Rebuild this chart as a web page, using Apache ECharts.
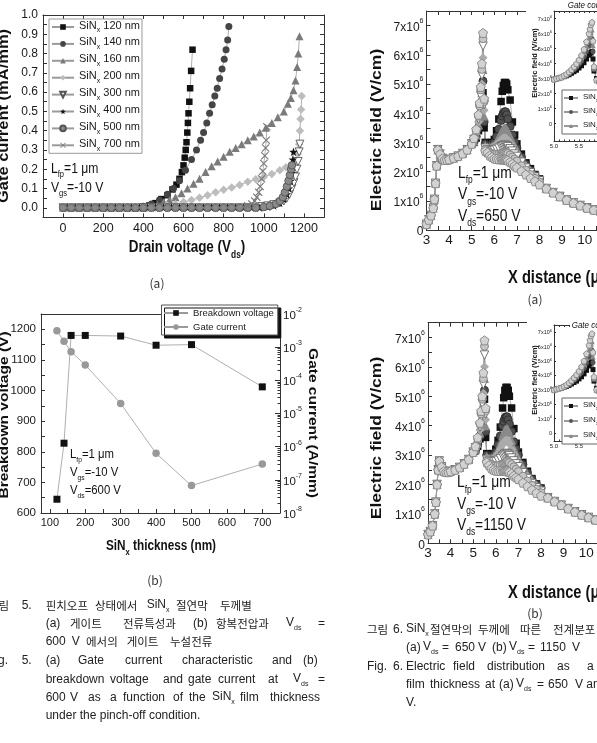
<!DOCTYPE html>
<html><head><meta charset="utf-8">
<script src="https://cdn.jsdelivr.net/npm/echarts@6.0.0/dist/echarts.min.js"></script>
<style>html,body{margin:0;padding:0;background:#fff;overflow:hidden}#c{width:597px;height:743px}</style>
</head><body><div id="c"></div>
<script>
// ================= Fig. 5(a): gate current (mA/mm) vs drain voltage (V) =================
const sinThickness = ['120','140','160','200','300','400','500','700'];
const gc120 = [[0,0],[40,0],[80,0],[120,0],[160,0],[200,0],[240,0],[280,0],[320,0],[360,0],[400,0.006],[430,0.012],[460,0.024],[490,0.045],[520,0.065],[545,0.095],[565,0.12],[580,0.15],[592,0.185],[600,0.22],[606,0.26],[611,0.3],[615,0.34],[619,0.39],[622,0.44],[625,0.49],[629,0.55],[633,0.62],[638,0.71],[645,0.82]];
const gc140 = [[20,0],[60,0],[100,0],[140,0],[180,0],[220,0],[260,0],[300,0],[340,0],[380,0],[400,0.008],[440,0.02],[480,0.04],[520,0.07],[550,0.1],[580,0.14],[610,0.195],[640,0.25],[665,0.3],[685,0.35],[700,0.39],[716,0.44],[730,0.49],[743,0.535],[756,0.58],[768,0.62],[780,0.67],[792,0.72],[803,0.77],[812,0.82],[820,0.87],[826,0.94]];
const gc160 = [[0,0],[40,0],[80,0],[120,0],[160,0],[200,0],[240,0],[280,0],[320,0],[360,0],[400,0],[440,0.005],[470,0.015],[500,0.028],[530,0.04],[560,0.055],[590,0.075],[620,0.1],[650,0.125],[680,0.15],[710,0.185],[740,0.215],[770,0.24],[800,0.265],[830,0.29],[860,0.31],[890,0.33],[920,0.35],[950,0.37],[980,0.39],[1010,0.415],[1040,0.44],[1070,0.47],[1100,0.5],[1120,0.54],[1135,0.57],[1148,0.61],[1158,0.66],[1166,0.73],[1172,0.8],[1178,0.89]];
const gc200 = [[20,0],[60,0],[100,0],[140,0],[180,0],[220,0],[260,0],[300,0],[340,0],[380,0],[420,0],[460,0],[480,0.004],[520,0.01],[560,0.018],[600,0.03],[640,0.04],[680,0.052],[720,0.065],[760,0.08],[800,0.093],[840,0.105],[880,0.118],[920,0.135],[960,0.148],[1000,0.16],[1040,0.175],[1080,0.195],[1110,0.21],[1140,0.225],[1160,0.245],[1170,0.28],[1176,0.33],[1180,0.4],[1183,0.46],[1186,0.51],[1189,0.58]];
const gc300 = [[0,0],[40,0],[80,0],[120,0],[160,0],[200,0],[240,0],[280,0],[320,0],[360,0],[400,0],[440,0],[480,0],[520,0],[560,0],[600,0],[640,0],[680,0],[720,0],[760,0],[800,0],[840,0],[880,0],[920,0],[960,0.003],[990,0.006],[1020,0.01],[1050,0.016],[1080,0.025],[1100,0.035],[1115,0.05],[1128,0.07],[1140,0.1],[1150,0.13],[1158,0.16],[1165,0.2],[1171,0.24],[1176,0.29],[1180,0.33]];
const gc400 = [[20,0],[60,0],[100,0],[140,0],[180,0],[220,0],[260,0],[300,0],[340,0],[380,0],[420,0],[460,0],[500,0],[540,0],[580,0],[620,0],[660,0],[700,0],[740,0],[780,0],[820,0],[860,0],[900,0],[940,0],[980,0],[1020,0.005],[1050,0.012],[1080,0.025],[1100,0.045],[1115,0.07],[1125,0.1],[1133,0.14],[1139,0.18],[1143,0.22],[1145,0.25],[1148,0.29]];
const gc500 = [[0,0],[40,0],[80,0],[120,0],[160,0],[200,0],[240,0],[280,0],[320,0],[360,0],[400,0],[440,0],[480,0],[520,0],[560,0],[600,0],[640,0],[680,0],[720,0],[760,0],[800,0],[840,0],[880,0],[920,0],[960,0],[1000,0.004],[1030,0.01],[1060,0.02],[1080,0.035],[1095,0.055],[1105,0.08],[1115,0.11],[1123,0.14],[1130,0.17],[1136,0.2],[1140,0.22]];
const gc700 = [[20,0],[60,0],[100,0],[140,0],[180,0],[220,0],[260,0],[300,0],[340,0],[380,0],[420,0],[460,0],[500,0],[540,0],[580,0],[620,0],[660,0],[700,0],[740,0],[780,0],[820,0],[860,0],[900,0.005],[920,0.01],[940,0.02],[955,0.035],[965,0.055],[975,0.08],[982,0.11],[989,0.15],[995,0.19],[1000,0.23],[1005,0.27],[1009,0.31],[1012,0.35],[1015,0.42]];
const vdTickLabels = [0,200,400,600,800,1000,1200];

// ================= Fig. 5(b): breakdown voltage & gate current vs SiNx thickness =================
const thicknessNm = [120,140,160,200,300,400,500,700];
const breakdownV = [645,828,1180,1180,1178,1148,1150,1012];
const gateCurrentAmm = [3.1e-3,1.5e-3,7.3e-4,2.9e-4,2.0e-5,6.3e-7,6.7e-8,3.0e-7];

// ================= Fig. 6: electric field (x10^6 V/cm) vs X distance (um) =================
const posSrc  = [3.0,3.1,3.2,3.3,3.35,3.4,3.45,3.5,3.6,3.7,3.8,3.9,4.0,4.2,4.4,4.6,4.8,5.0];
const posGate = [5.1,5.2,5.3,5.35,5.4,5.45,5.5,5.55,5.6];
const posFp   = [5.7,5.8,5.9,6.0,6.1,6.2,6.3,6.35,6.4,6.45,6.5,6.55,6.6,6.7,6.8,6.9,7.0,7.2,7.4,7.6,7.8,8.0];
const posTail = [8.3,8.6,8.9,9.2,9.5,9.8,10.1,10.4,10.7,11.0,11.5,12.0];
const fieldThk = ['120','140','160','200','300','500','700'];
// (a) Vds = 650 V
const srcA  = [0.2,0.35,0.5,0.75,1.05,1.6,2.2,2.75,2.6,2.45,2.4,2.4,2.42,2.47,2.53,2.62,2.75,2.95];
const tailA = [1.42,1.28,1.15,1.03,0.93,0.84,0.76,0.69,0.63,0.58,0.51,0.45];
const gateA120 = [3.0,3.15,3.4,3.6,3.85,4.2,4.7,3.5,3.0];
const gateA140 = [3.0,3.2,3.5,3.7,4.0,4.4,5.1,3.7,2.95];
const gateA160 = [3.05,3.25,3.6,3.85,4.2,4.7,5.5,3.9,2.9];
const gateA200 = [3.1,3.3,3.7,4.0,4.4,5.0,5.9,4.1,2.85];
const gateA300 = [3.1,3.35,3.8,4.15,4.6,5.3,6.3,4.3,2.8];
const gateA500 = [3.15,3.4,3.9,4.25,4.8,5.5,6.55,4.4,2.75];
const gateA700 = [3.15,3.45,3.95,4.35,4.9,5.7,6.75,4.5,2.7];
const fpA120 = [2.95,2.95,3.0,3.1,3.4,3.8,4.4,4.75,4.95,5.05,5.05,5.0,4.8,4.45,3.7,3.25,2.95,2.6,2.3,2.1,1.9,1.75];
const fpA140 = [2.9,2.9,2.95,3.0,3.2,3.45,3.75,3.9,4.0,4.05,4.05,3.95,3.8,3.55,3.25,3.0,2.8,2.5,2.25,2.05,1.88,1.73];
const fpA160 = [2.85,2.85,2.88,2.92,3.05,3.2,3.35,3.42,3.48,3.5,3.5,3.45,3.38,3.22,3.05,2.9,2.75,2.45,2.22,2.03,1.86,1.72];
const fpA200 = [2.8,2.8,2.82,2.85,2.93,3.0,3.08,3.12,3.15,3.15,3.15,3.12,3.07,2.98,2.88,2.76,2.65,2.4,2.18,2.0,1.84,1.7];
const fpA300 = [2.75,2.72,2.72,2.73,2.76,2.8,2.85,2.87,2.88,2.9,2.9,2.88,2.85,2.78,2.7,2.6,2.52,2.32,2.12,1.96,1.81,1.68];
const fpA500 = [2.7,2.65,2.62,2.6,2.6,2.6,2.62,2.63,2.64,2.65,2.65,2.64,2.62,2.57,2.5,2.43,2.36,2.2,2.05,1.9,1.77,1.64];
const fpA700 = [2.65,2.55,2.5,2.45,2.43,2.42,2.42,2.42,2.42,2.42,2.41,2.4,2.38,2.33,2.27,2.2,2.14,2.02,1.9,1.78,1.67,1.56];
// (b) Vds = 1150 V
const srcB  = [0.3,0.4,0.6,1.0,1.4,2.0,2.5,2.8,2.6,2.45,2.42,2.42,2.45,2.5,2.58,2.7,2.85,3.1];
const tailB = [1.55,1.42,1.3,1.18,1.07,0.97,0.88,0.8,0.73,0.67,0.6,0.54];
const gateB120 = [3.15,3.3,3.55,3.75,4.0,4.35,4.9,3.6,3.05];
const gateB140 = [3.15,3.35,3.65,3.85,4.15,4.55,5.2,3.8,3.0];
const gateB160 = [3.2,3.4,3.75,4.0,4.35,4.8,5.6,4.0,2.95];
const gateB200 = [3.2,3.45,3.85,4.15,4.55,5.1,6.0,4.2,2.9];
const gateB300 = [3.25,3.5,3.95,4.3,4.75,5.4,6.4,4.4,2.85];
const gateB500 = [3.3,3.55,4.05,4.4,4.9,5.6,6.7,4.5,2.8];
const gateB700 = [3.3,3.6,4.1,4.5,5.0,5.8,6.9,4.6,2.75];
const fpB120 = [3.0,3.0,3.05,3.2,3.5,3.95,4.6,4.95,5.2,5.3,5.3,5.2,5.0,4.6,3.9,3.4,3.1,2.75,2.45,2.2,2.02,1.88];
const fpB140 = [2.95,2.95,3.0,3.1,3.35,3.65,4.0,4.15,4.25,4.3,4.3,4.2,4.05,3.8,3.45,3.2,3.0,2.68,2.4,2.18,2.0,1.86];
const fpB160 = [2.9,2.9,2.95,3.0,3.2,3.4,3.65,3.75,3.85,3.9,3.9,3.85,3.75,3.5,3.25,3.05,2.9,2.6,2.35,2.15,1.98,1.84];
const fpB200 = [2.85,2.85,2.88,2.92,3.05,3.2,3.35,3.42,3.48,3.5,3.5,3.45,3.38,3.2,3.03,2.88,2.76,2.5,2.28,2.1,1.94,1.81];
const fpB300 = [2.8,2.77,2.77,2.78,2.82,2.88,2.95,2.99,3.02,3.05,3.05,3.02,2.98,2.9,2.8,2.7,2.6,2.4,2.2,2.03,1.89,1.77];
const fpB500 = [2.72,2.68,2.65,2.64,2.65,2.67,2.7,2.72,2.74,2.77,2.8,2.77,2.74,2.68,2.6,2.52,2.44,2.28,2.12,1.97,1.84,1.72];
const fpB700 = [2.65,2.55,2.5,2.47,2.46,2.46,2.46,2.46,2.46,2.46,2.45,2.44,2.42,2.37,2.3,2.24,2.18,2.06,1.94,1.82,1.71,1.62];
// insets: gate corner
const posInset = [5.0,5.05,5.1,5.15,5.2,5.25,5.3,5.35,5.4,5.45,5.5,5.55,5.6,5.65,5.7,5.72,5.74,5.76,5.78,5.8,5.85,5.9];
const insA120 = [2.95,3.0,3.03,3.06,3.12,3.18,3.25,3.35,3.45,3.55,3.7,3.85,4.05,4.3,4.55,4.65,4.75,4.8,4.3,3.5,3.0,2.95];
const insA200 = [2.95,3.0,3.05,3.08,3.15,3.22,3.32,3.45,3.6,3.75,3.95,4.15,4.45,4.8,5.15,5.35,5.55,5.65,4.8,3.6,2.95,2.85];
const insA300 = [2.95,3.0,3.05,3.1,3.18,3.27,3.4,3.55,3.72,3.9,4.12,4.4,4.75,5.15,5.6,5.85,6.1,6.25,5.2,3.7,2.9,2.8];
const insA700 = [2.95,3.0,3.05,3.1,3.2,3.3,3.45,3.6,3.8,4.0,4.25,4.55,4.95,5.45,6.0,6.3,6.6,6.75,5.5,3.8,2.9,2.8];
const insB120 = [3.0,3.05,3.08,3.11,3.17,3.23,3.3,3.4,3.5,3.6,3.75,3.9,4.1,4.35,4.65,4.8,4.9,4.95,4.4,3.6,3.1,3.05];
const insB200 = [3.0,3.05,3.1,3.13,3.2,3.27,3.37,3.5,3.65,3.8,4.0,4.2,4.5,4.85,5.25,5.45,5.65,5.75,4.9,3.7,3.05,2.95];
const insB300 = [3.0,3.05,3.1,3.15,3.22,3.32,3.45,3.6,3.77,3.95,4.17,4.45,4.8,5.2,5.7,5.95,6.2,6.35,5.3,3.8,3.0,2.9];
const insB700 = [3.0,3.05,3.1,3.15,3.25,3.35,3.5,3.65,3.85,4.05,4.3,4.6,5.0,5.5,6.1,6.45,6.75,6.9,5.6,3.9,3.0,2.9];

// ---------------- helpers (styling only) ----------------
const NF = "'Liberation Sans',Arial,sans-serif";
const KF = "'Noto Sans CJK KR','Liberation Sans',sans-serif";
const LF = "'Liberation Sans',Arial,sans-serif";
const PENT = 'path://M0,-10L9.51,-3.09L5.88,8.09L-5.88,8.09L-9.51,-3.09Z';
const STAR = 'path://M0,-10L2.35,-3.24L9.51,-3.09L3.8,1.24L5.88,8.09L0,4L-5.88,8.09L-3.8,1.24L-9.51,-3.09L-2.35,-3.24Z';
const DTRI = 'path://M-10,-8L10,-8L0,10Z';
const CROSS = 'path://M-10,-8L-8,-10L0,-2L8,-10L10,-8L2,0L10,8L8,10L0,2L-8,10L-10,8L-2,0Z';
const SQ = 0.84; // horizontal squeeze of the scanned figure
const zip = (xs, ys) => xs.map((x, i) => [x, ys[i]]);
const steps = (a, b, s) => { const r = []; for (let v = a; v <= b + 1e-9; v += s) r.push(+v.toFixed(4)); return r; };
const plain = v => String(v);

function richSub(F, ff, fw, col) {
  return { n: {fontSize: F, lineHeight: Math.round(F*1.25), verticalAlign: 'top', fontFamily: ff, fontWeight: fw, color: col, fill: col},
           s: {fontSize: Math.round(F*0.62), lineHeight: Math.round(F*0.62), verticalAlign: 'bottom', fontFamily: ff, fontWeight: fw, color: col, fill: col} };
}
function richSup(F, ff, col) {
  return { n: {fontSize: F, lineHeight: Math.round(F*1.3), verticalAlign: 'bottom', fontFamily: ff, color: col},
           p: {fontSize: Math.max(4, Math.round(F*0.62)), lineHeight: Math.max(4, Math.round(F*0.62)), verticalAlign: 'top', fontFamily: ff, color: col} };
}
function T(x, y, text, o) {
  o = o || {};
  const F = o.fs || 13, ff = o.ff || NF, fw = o.fw || 'normal', col = o.c || '#111';
  const st = {text: text, fontSize: F, fontFamily: ff, fontWeight: fw, fontStyle: o.it ? 'italic' : 'normal', fill: col,
              align: o.al || 'left', verticalAlign: 'middle', rich: richSub(F, ff, fw, col)};
  if (o.bg) { st.backgroundColor = o.bg; st.padding = o.pad || [0, 2]; }
  return {type: 'text', x: x, y: y, rotation: o.rot || 0, scaleX: o.sx || 1, scaleY: o.sy || 1, z: 10, silent: true, style: st};
}
function xAx(gi, min, max, labels, ticks, o) {
  o = o || {};
  return {type: 'value', gridIndex: gi, min: min, max: max, position: o.pos || 'bottom', z: o.z || 0,
    axisLine: {show: true, onZero: false, lineStyle: {color: '#333', width: 1}},
    axisTick: {show: !!ticks, inside: true, length: o.tl || 4, customValues: ticks || undefined, lineStyle: {color: '#333', width: 1}},
    axisLabel: {show: !!labels, customValues: labels || undefined, margin: o.margin == null ? 4 : o.margin, fontSize: o.fs || 13,
                fontFamily: NF, color: '#1a1a1a', formatter: o.fmt || plain, rich: o.rich},
    splitLine: {show: false}};
}
function yAx(gi, min, max, labels, ticks, o) {
  const a = xAx(gi, min, max, labels, ticks, o);
  a.position = (o && o.pos) || 'left';
  if (o && o.type) a.type = o.type;
  if (o && o.noLine) a.axisLine.show = false;
  return a;
}
function L(name, data, xi, yi, sym, size, fill, border, z) {
  return {type: 'line', name: name, data: data, xAxisIndex: xi, yAxisIndex: yi, symbol: sym, symbolSize: size,
    showSymbol: true, clip: true, animation: false, z: z || 2, emphasis: {disabled: true},
    lineStyle: {color: '#9a9a9a', width: 0.8},
    itemStyle: {color: fill, borderColor: border || fill, borderWidth: border ? 0.9 : 0}};
}

// ---------------- series ----------------
const series = [];
const gcData = [gc120, gc140, gc160, gc200, gc300, gc400, gc500, gc700];
const gcSty = [['rect',6.5,'#111'],['circle',7,'#454545'],['triangle',8,'#7a7a7a'],['diamond',8.5,'#bdbdbd'],
               [DTRI,8,'#fff','#555'],[STAR,8.5,'#111'],['circle',7.5,'#8a8a8a','#555'],[CROSS,8,'#7a7a7a']];
sinThickness.forEach((t, i) => { const s = gcSty[i]; series.push(L('a' + t, gcData[i], 0, 0, s[0], s[1], s[2], s[3])); });

series.push(L('Breakdown voltage', zip(thicknessNm, breakdownV), 2, 2, 'rect', 7, '#111'));
series.push(L('Gate current', zip(thicknessNm, gateCurrentAmm), 2, 3, 'circle', 7.5, '#999'));

const posAll = posSrc.concat(posGate, posFp, posTail);
const fSty = [['rect',7.5,'#111'],['circle',8,'#505050','#2a2a2a'],['triangle',9,'#8a8a8a'],['diamond',9,'#ababab'],
              [DTRI,8.5,'#fff','#666'],['circle',8,'#c6c6c6','#808080'],[PENT,9,'#d2d2d2','#858585']];
const gA = [gateA120,gateA140,gateA160,gateA200,gateA300,gateA500,gateA700];
const fA = [fpA120,fpA140,fpA160,fpA200,fpA300,fpA500,fpA700];
const gB = [gateB120,gateB140,gateB160,gateB200,gateB300,gateB500,gateB700];
const fB = [fpB120,fpB140,fpB160,fpB200,fpB300,fpB500,fpB700];
fieldThk.forEach((t, i) => { const s = fSty[i];
  series.push(L('ea' + t, zip(posAll, srcA.concat(gA[i], fA[i], tailA)), 4, 4, s[0], s[1], s[2], s[3]));
});
fieldThk.forEach((t, i) => { const s = fSty[i];
  series.push(L('eb' + t, zip(posAll, srcB.concat(gB[i], fB[i], tailB)), 6, 5, s[0], s[1], s[2], s[3]));
});
const insSty = [['rect',5,'#111'],['circle',5,'#555'],['triangle',5.5,'#8a8a8a'],[PENT,6,'#d2d2d2','#858585']];
const insNames = ['120','200','300','700'];
[insA120, insA200, insA300, insA700].forEach((d, i) => { const s = insSty[i];
  series.push(L('ia' + insNames[i], zip(posInset, d), 8, 6, s[0], s[1], s[2], s[3], 6)); });
[insB120, insB200, insB300, insB700].forEach((d, i) => { const s = insSty[i];
  series.push(L('ib' + insNames[i], zip(posInset, d), 10, 7, s[0], s[1], s[2], s[3], 6)); });

// ---------------- axes ----------------
const supRich6 = richSup(12, NF, '#1a1a1a');
const supRichIn = richSup(5.5, NF, '#1a1a1a');
const supRich5b = richSup(11.5, NF, '#1a1a1a');
const eFmt = v => v === 0 ? '{n|0}' : '{n|' + Math.round(v) + 'x10}{p|6}';
const logTicksMinor = []; for (let e = -8; e < -2; e++) for (let m = 2; m <= 9; m++) logTicksMinor.push(m * Math.pow(10, e));
const logTicksMajor = [1e-8,1e-7,1e-6,1e-5,1e-4,1e-3,1e-2];

const xAxis = [
  xAx(0, -100, 1300, vdTickLabels, steps(0, 1200, 100), {fs: 12.5, margin: 5}),
  xAx(0, -100, 1300, null, steps(0, 1200, 100), {pos: 'top'}),
  xAx(1, 75, 750, steps(100, 700, 100), steps(100, 750, 50), {fs: 11, margin: 4}),
  xAx(1, 75, 750, null, null, {pos: 'top'}),
  xAx(2, 3, 12, steps(3, 12, 1), steps(3, 12, 0.5), {fs: 13.5, margin: 3}),
  xAx(2, 3, 12, null, steps(3, 12, 0.5), {pos: 'top'}),
  xAx(3, 3, 12, steps(3, 12, 1), steps(3, 12, 0.5), {fs: 13.5, margin: 3}),
  xAx(3, 3, 12, null, steps(3, 12, 0.5), {pos: 'top'}),
  xAx(4, 5.0, 6.0, [5.0, 5.5, 6.0], steps(5.0, 6.0, 0.1), {fs: 6, margin: 2, tl: 2, z: 5, fmt: v => v.toFixed(1)}),
  xAx(4, 5.0, 6.0, null, steps(5.0, 6.0, 0.1), {pos: 'top', tl: 2, z: 5}),
  xAx(5, 5.0, 6.0, [5.0, 5.5, 6.0], steps(5.0, 6.0, 0.1), {fs: 6, margin: 2, tl: 2, z: 5, fmt: v => v.toFixed(1)}),
  xAx(5, 5.0, 6.0, null, steps(5.0, 6.0, 0.1), {pos: 'top', tl: 2, z: 5})
];
const yAxis = [
  yAx(0, -0.05, 1.0, steps(0, 1.0, 0.1), steps(0, 1.0, 0.05), {fs: 12, margin: 5, fmt: v => v.toFixed(1)}),
  yAx(0, -0.05, 1.0, null, steps(0, 1.0, 0.05), {pos: 'right'}),
  yAx(1, 600, 1250, steps(600, 1200, 100), steps(600, 1250, 50), {fs: 11.5, margin: 5}),
  yAx(1, 1e-8, 1e-2, logTicksMajor, logTicksMajor, {pos: 'right', type: 'log', fs: 11.5, margin: 3, tl: 5,
      fmt: v => '{n|10}{p|' + Math.round(Math.log10(v)) + '}', rich: supRich5b}),
  yAx(2, 0, 7.5, steps(0, 7, 1), steps(0, 7.5, 0.5), {fs: 12, margin: 3, fmt: eFmt, rich: supRich6}),
  yAx(3, 0, 7.5, steps(0, 7, 1), steps(0, 7.5, 0.5), {fs: 12, margin: 3, fmt: eFmt, rich: supRich6}),
  yAx(4, -1.2, 7.5, steps(0, 7, 1), steps(0, 7, 1), {fs: 5.5, margin: 2, tl: 2, z: 5, fmt: eFmt, rich: supRichIn}),
  yAx(5, -0.6, 7.5, steps(0, 7, 1), steps(0, 7, 1), {fs: 5.5, margin: 2, tl: 2, z: 5, fmt: eFmt, rich: supRichIn}),
  yAx(1, 1e-8, 1e-2, null, logTicksMinor, {pos: 'right', type: 'log', tl: 2.5, noLine: true})
];

const G = (l, t, w, h) => ({left: l, top: t, width: w, height: h, containLabel: false, outerBoundsMode: 'none'});
const grid = [G(43, 15, 281, 202.4), G(41, 314, 239, 199), G(426.5, 11, 203.4, 219), G(428, 322.7, 203.4, 220.6),
              G(554, 11, 50, 130.5), G(554, 325, 50, 116.5)];

// ---------------- legends ----------------
const legRich = (F) => richSub(F, NF, 'normal', '#1a1a1a');
const legend = [
  {data: sinThickness.map(t => 'a' + t), left: 49, top: 19, orient: 'vertical', itemWidth: 22, itemHeight: 7, itemGap: 2.9,
   padding: [1, 2, 1, 2], borderColor: '#999', borderWidth: 1, backgroundColor: '#fff', selectedMode: false, z: 5,
   formatter: n => '{n|SiN}{s|x}{n| ' + n.slice(1) + ' nm}',
   textStyle: {fontFamily: NF, fontSize: 11, color: '#1a1a1a', rich: legRich(11)}},
  {data: ['Breakdown voltage', 'Gate current'], left: 161.5, top: 305, orient: 'vertical', itemWidth: 24, itemHeight: 7, itemGap: 4,
   padding: [3, 4, 3, 1.5], borderColor: '#555', borderWidth: 1, backgroundColor: '#fff', selectedMode: false, z: 5,
   shadowColor: '#111', shadowBlur: 0, shadowOffsetX: 3, shadowOffsetY: 3,
   textStyle: {fontFamily: NF, fontSize: 9.5, color: '#1a1a1a'}},
  {data: ['ia120', 'ia200', 'ia300'], left: 562, top: 90, orient: 'vertical', itemWidth: 14, itemHeight: 5, itemGap: 4,
   padding: [3, 3, 3, 1], borderColor: '#666', borderWidth: 1, backgroundColor: '#fff', selectedMode: false, z: 7,
   formatter: n => '{n|SiN}{s|x}{n| ' + n.slice(2) + ' nm}',
   textStyle: {fontFamily: NF, fontSize: 8, color: '#1a1a1a', rich: legRich(8)}},
  {data: ['ib120', 'ib200', 'ib300'], left: 562, top: 398, orient: 'vertical', itemWidth: 14, itemHeight: 5, itemGap: 5,
   padding: [3, 3, 3, 1], borderColor: '#666', borderWidth: 1, backgroundColor: '#fff', selectedMode: false, z: 7,
   formatter: n => '{n|SiN}{s|x}{n| ' + n.slice(2) + ' nm}',
   textStyle: {fontFamily: NF, fontSize: 8, color: '#1a1a1a', rich: legRich(8)}}
];

// ---------------- texts ----------------
const kcap = (x, y, t) => T(x, y, t, {ff: KF, fs: 11.5, c: '#222'});
const ecap = (x, y, t) => T(x, y, t, {ff: LF, fs: 12, c: '#222'});
const H = {sx: SQ};            // horizontal text squeezed like the scan
const V = {sy: SQ};            // rotated text: squeeze glyph height
const graphics = [
  {type: 'rect', shape: {x: 526, y: 0, width: 80, height: 152}, style: {fill: '#fff'}, z: 4, silent: true},
  {type: 'rect', shape: {x: 527, y: 313, width: 80, height: 142}, style: {fill: '#fff'}, z: 4, silent: true},
  // Fig 5(a)
  T(4, 116, 'Gate current (mA/mm)', Object.assign({fs: 16.5, fw: 'bold', rot: Math.PI / 2, al: 'center'}, V)),
  T(187, 250, '{n|Drain voltage (V}{s|ds}{n|)}', Object.assign({fs: 16, fw: 'bold', al: 'center'}, H)),
  T(51, 170, '{n|L}{s|fp}{n|=1 \u03bcm}', Object.assign({fs: 14.5}, H)),
  T(51, 189, '{n|V}{s|gs}{n|=-10 V}', Object.assign({fs: 14.5}, H)),
  T(157, 283, '(a)', {ff: KF, fs: 12, al: 'center', c: '#333'}),
  // Fig 5(b)
  T(4, 415, 'Breakdown voltage (V)', Object.assign({fs: 15.5, fw: 'bold', rot: Math.PI / 2, al: 'center'}, V)),
  T(313, 423, 'Gate current (A/mm)', Object.assign({fs: 15.5, fw: 'bold', rot: -Math.PI / 2, al: 'center'}, V)),
  T(161, 548, '{n|SiN}{s|x}{n| thickness (nm)}', Object.assign({fs: 14, fw: 'bold', al: 'center'}, H)),
  T(70, 455.5, '{n|L}{s|fp}{n|=1 \u03bcm}', Object.assign({fs: 13.5}, H)),
  T(70, 473.5, '{n|V}{s|gs}{n|=-10 V}', Object.assign({fs: 13.5}, H)),
  T(70, 491.5, '{n|V}{s|ds}{n|=600 V}', Object.assign({fs: 13.5}, H)),
  T(155, 580, '(b)', {ff: KF, fs: 12, al: 'center', c: '#333'}),
  // Fig 6(a)
  T(377, 130, 'Electric field (V/cm)', Object.assign({fs: 17.5, fw: 'bold', rot: Math.PI / 2, al: 'center'}, V)),
  T(508, 278, 'X distance (\u03bcm)', Object.assign({fs: 17.5, fw: 'bold'}, H)),
  T(458, 175, '{n|L}{s|fp}{n|=1 \u03bcm}', Object.assign({fs: 16.5}, H)),
  T(458, 196.5, '{n|V}{s|gs}{n|=-10 V}', Object.assign({fs: 16.5}, H)),
  T(458, 218, '{n|V}{s|ds}{n|=650 V}', Object.assign({fs: 16.5}, H)),
  T(535, 299, '(a)', {ff: KF, fs: 12, al: 'center', c: '#333'}),
  T(535.5, 63, 'Electric field (V/cm)', Object.assign({fs: 7.5, fw: 'bold', rot: Math.PI / 2, al: 'center'}, V)),
  T(566, 5, 'Gate corner', Object.assign({fs: 9.5, it: true, bg: '#fff', pad: [0, 2]}, H)),
  // Fig 6(b)
  T(377, 438, 'Electric field (V/cm)', Object.assign({fs: 17.5, fw: 'bold', rot: Math.PI / 2, al: 'center'}, V)),
  T(508, 593, 'X distance (\u03bcm)', Object.assign({fs: 17.5, fw: 'bold'}, H)),
  T(457, 484.5, '{n|L}{s|fp}{n|=1 \u03bcm}', Object.assign({fs: 16.5}, H)),
  T(457, 506, '{n|V}{s|gs}{n|=-10 V}', Object.assign({fs: 16.5}, H)),
  T(457, 527, '{n|V}{s|ds}{n|=1150 V}', Object.assign({fs: 16.5}, H)),
  T(535, 613, '(b)', {ff: KF, fs: 12, al: 'center', c: '#333'}),
  T(535.5, 380, 'Electric field (V/cm)', Object.assign({fs: 7.5, fw: 'bold', rot: Math.PI / 2, al: 'center'}, V)),
  T(570, 325, 'Gate corner', Object.assign({fs: 9.5, it: true, bg: '#fff', pad: [0, 2]}, H)),
  // Captions, Fig. 5
  kcap(-12, 606, '그림'), ecap(21.7, 606, '5.'), kcap(45.7, 606, '핀치오프'), kcap(95, 606, '상태에서'),
  ecap(146.7, 606, '{n|SiN}{s|x}'), kcap(176, 606, '절연막'), kcap(220, 606, '두께별'),
  ecap(45.7, 624, '(a)'), kcap(70, 624, '게이트'), kcap(123, 624, '전류특성과'), ecap(193, 624, '(b)'),
  kcap(216, 624, '항복전압과'), ecap(286, 624, '{n|V}{s|ds}'), ecap(318, 624, '='),
  ecap(45.7, 642, '600'), ecap(71.7, 642, 'V'), kcap(86, 642, '에서의'), kcap(126.7, 642, '게이트'), kcap(170, 642, '누설전류'),
  ecap(-12, 661, 'Fig.'), ecap(21.7, 661, '5.'), ecap(45.7, 661, '(a)'), ecap(78, 661, 'Gate'), ecap(125, 661, 'current'),
  ecap(182, 661, 'characteristic'), ecap(272, 661, 'and'), ecap(303, 661, '(b)'),
  ecap(45.7, 680, 'breakdown'), ecap(110, 680, 'voltage'), ecap(163, 680, 'and'), ecap(188, 680, 'gate'),
  ecap(218, 680, 'current'), ecap(268, 680, 'at'), ecap(293, 680, '{n|V}{s|ds}'), ecap(318, 680, '='),
  ecap(45.7, 698, '600'), ecap(70, 698, 'V'), ecap(88, 698, 'as'), ecap(110, 698, 'a'), ecap(123, 698, 'function'),
  ecap(173, 698, 'of'), ecap(189, 698, 'the'), ecap(212, 698, '{n|SiN}{s|x}'), ecap(240, 698, 'film'), ecap(270, 698, 'thickness'),
  ecap(45.7, 716, 'under the pinch-off condition.'),
  // Captions, Fig. 6
  kcap(367, 630, '그림'), ecap(393, 630, '6.'), ecap(406, 630, '{n|SiN}{s|x}'), kcap(430, 630, '절연막의'),
  kcap(478, 630, '두께에'), kcap(520, 630, '따른'), kcap(553, 630, '전계분포'),
  ecap(406, 648, '(a)'), ecap(423, 648, '{n|V}{s|ds}'), ecap(442, 648, '='), ecap(455, 648, '650'), ecap(478, 648, 'V'),
  ecap(492, 648, '(b)'), ecap(509, 648, '{n|V}{s|ds}'), ecap(528, 648, '='), ecap(540, 648, '1150'), ecap(572, 648, 'V'),
  ecap(367, 667, 'Fig.'), ecap(393, 667, '6.'), ecap(406, 667, 'Electric'), ecap(453, 667, 'field'),
  ecap(487, 667, 'distribution'), ecap(557, 667, 'as'), ecap(587, 667, 'a function'),
  ecap(406, 685, 'film'), ecap(430, 685, 'thickness'), ecap(485, 685, 'at'), ecap(499, 685, '(a)'),
  ecap(516, 685, '{n|V}{s|ds}'), ecap(537, 685, '='), ecap(548, 685, '650'), ecap(575, 685, 'V and'),
  ecap(406, 703, 'V.')
];

const chart = echarts.init(document.getElementById('c'), null, {renderer: 'canvas'});
chart.setOption({
  backgroundColor: '#fff', animation: false,
  grid: grid, xAxis: xAxis, yAxis: yAxis, legend: legend, series: series,
  graphic: {elements: graphics}
});
</script>
</body></html>
